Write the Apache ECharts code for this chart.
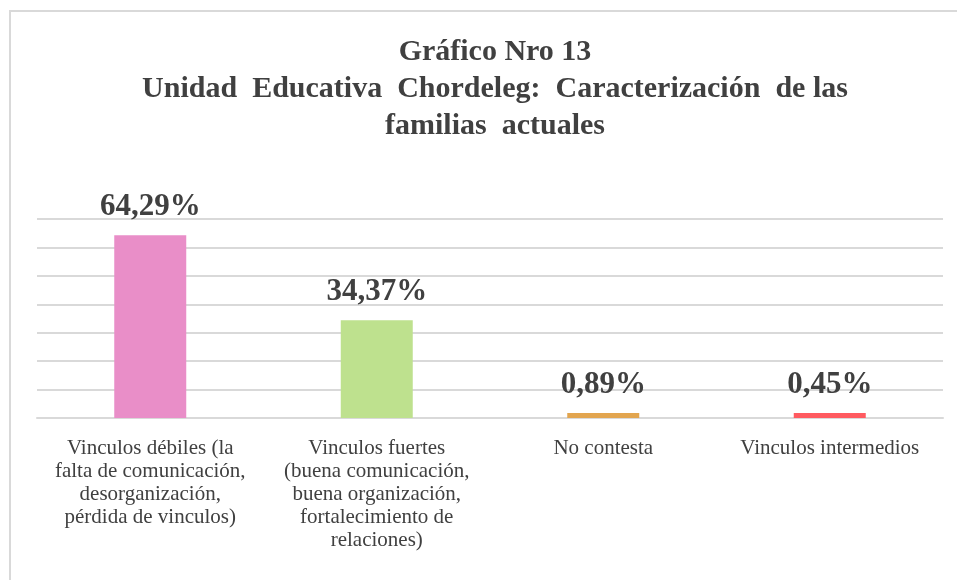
<!DOCTYPE html>
<html>
<head>
<meta charset="utf-8">
<script src="https://cdn.jsdelivr.net/npm/echarts@6/dist/echarts.min.js"></script>
<style>
  html, body { margin: 0; padding: 0; background: #fff; }
  #main { width: 957px; height: 580px; }
</style>
</head>
<body>
<div id="main"></div>
<script>
// datos del gráfico
const categorias = [
  'Vinculos débiles (la\nfalta de comunicación,\ndesorganización,\npérdida de vinculos)',
  'Vinculos fuertes\n(buena comunicación,\nbuena organización,\nfortalecimiento de\nrelaciones)',
  'No contesta',
  'Vinculos intermedios'
];
const porcentajes = [64.29, 34.37, 0.89, 0.45];
const colores = ['#e98ec8', '#bee18e', '#e2a54f', '#ff5a60'];

const serif = '"Liberation Serif", "Times New Roman", serif';
const texto = '#404040';

const chart = echarts.init(document.getElementById('main'));

chart.setOption({
  animation: false,
  backgroundColor: '#fff',
  graphic: [{
    type: 'rect',
    shape: { x: 10, y: 11, width: 1000, height: 1000 },
    style: { fill: 'none', stroke: '#d9d9d9', lineWidth: 2 }
  }],
  title: {
    text: 'Gráfico Nro 13\nUnidad  Educativa  Chordeleg:  Caracterización  de las\nfamilias  actuales',
    left: 490,
    textAlign: 'center',
    top: 29,
    textStyle: {
      fontFamily: serif,
      fontWeight: 'bold',
      fontSize: 30,
      lineHeight: 37,
      color: texto
    }
  },
  grid: { left: 37, right: 14, top: 219, bottom: 162 },
  xAxis: {
    type: 'category',
    data: categorias,
    axisLine: { lineStyle: { color: '#d9d9d9', width: 2 } },
    axisTick: { show: false },
    axisLabel: {
      interval: 0,
      margin: 19,
      fontFamily: serif,
      fontSize: 21,
      lineHeight: 23,
      color: texto
    }
  },
  yAxis: {
    type: 'value',
    min: 0,
    max: 70,
    interval: 10,
    axisLabel: { show: false },
    axisLine: { show: false },
    axisTick: { show: false },
    splitLine: { lineStyle: { color: '#d9d9d9', width: 2 } }
  },
  series: [{
    type: 'bar',
    barWidth: 72,
    barMinHeight: 5,
    data: porcentajes.map((v, i) => ({ value: v, itemStyle: { color: colores[i] } })),
    label: {
      show: true,
      position: 'top',
      distance: 13,
      fontFamily: serif,
      fontWeight: 'bold',
      fontSize: 31,
      color: texto,
      formatter: p => p.value.toFixed(2).replace('.', ',') + '%'
    }
  }]
});
</script>
</body>
</html>
